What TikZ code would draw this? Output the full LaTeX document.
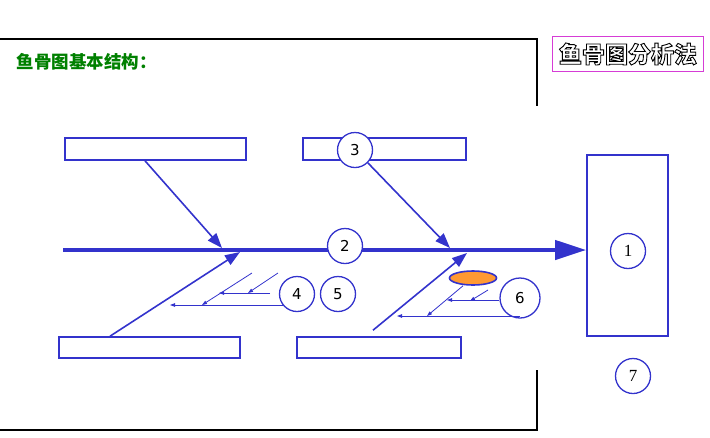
\documentclass[tikz,border=0pt]{standalone}
\usepackage{fontspec}
\usepackage{tikz}
\usetikzlibrary{arrows.meta, positioning, shapes.geometric}
\newfontfamily\cjk{Noto Sans CJK SC}
\newfontfamily\numsans{DejaVu Sans}
\newfontfamily\numserif{Liberation Serif}
\definecolor{fishblue}{RGB}{51,51,204}
\definecolor{titlegreen}{RGB}{0,128,0}
\definecolor{boxmagenta}{RGB}{214,60,214}
\definecolor{eggorange}{RGB}{255,153,51}

\begin{document}
\begin{tikzpicture}[
  x=1pt, y=-1pt,
  frame/.style={draw=black, line width=1.3pt},
  causebox/.style={draw=fishblue, line width=1.6pt, fill=white, inner sep=0pt},
  num/.style={circle, draw=fishblue, line width=1.3pt, fill=white, minimum size=35pt, inner sep=0pt, font=\numsans\fontsize{15}{15}\selectfont},
  numr/.style={num, font=\numserif\fontsize{17}{17}\selectfont},
  spine/.style={draw=fishblue, line width=4pt, -{Triangle[length=31pt, width=19pt]}},
  bone/.style={draw=fishblue, line width=1.6pt, -{Triangle[length=15pt, width=11pt]}},
  twig/.style={draw=fishblue, line width=0.8pt, -{Triangle[length=5pt, width=3.5pt]}},
]
\useasboundingbox (0,0) rectangle (710,437);
% ---- frame and titles
\draw[frame] (0,39) -- (537,39) -- (537,106);
\draw[frame] (0,430) -- (537,430) -- (537,370);
\node[anchor=west, text=titlegreen, font=\cjk\bfseries\fontsize{17.5}{17.5}\selectfont] (title) at (13,62) {鱼骨图基本结构：};
\node[minimum width=150pt, minimum height=34pt, inner sep=0pt,
  font=\cjk\bfseries\fontsize{23}{23}\selectfont] (name) at (628,54)
  {\color{white}\special{pdf:literal direct 2 Tr 0.9 w 0 G}鱼骨图分析法\special{pdf:literal direct 0 Tr}};
\draw[draw=boxmagenta, line width=0.8pt] (name.north west) rectangle (name.south east);

% ---- boxes
\node[causebox, minimum width=181pt, minimum height=22pt] (tl) at (155.5,149) {};
\node[causebox, minimum width=163pt, minimum height=22pt] (tm) at (384.5,149) {};
\node[causebox, minimum width=181pt, minimum height=21pt] (bl) at (149.5,347.5) {};
\node[causebox, minimum width=164pt, minimum height=21pt] (bm) at (379,347.5) {};
\node[causebox, minimum width=81pt, minimum height=181pt] (head) at (627.5,245.5) {};

% ---- spine and bones
\coordinate (tail) at (63,250);
\coordinate (s1) at (222,248);
\coordinate (s2) at (450,248);
\coordinate (s3) at (240,252);
\coordinate (s4) at (467,253);
\draw[spine] (tail) -- (tail -| head.west);
\node[num] (c3) at (355,150) {3};
\draw[bone] ([xshift=-10.5pt]tl.south) -- (s1);
\draw[bone] (c3.south east) -- (s2);
\draw[bone] ([xshift=-39.5pt]bl.north) -- (s3);
\draw[bone] ([shift={(-6pt,6pt)}]bm.north) -- (s4);

% ---- small causes
\node[num] (c4) at (297,294) {4};
\node[num] (c5) at (338,294) {5};
\coordinate (a1) at (252,273);
\coordinate (a2) at (202,305);
\coordinate (a3) at (270,293);
\coordinate (a4) at (278,273);
\coordinate (a5) at (248,293);
\draw[twig] (c4.south west |- a2) -- (170,305);
\draw[twig] (a1) -- (a2);
\draw[twig] (a3) -- (219,293);
\draw[twig] (a4) -- (a5);

\node[ellipse, draw=fishblue, line width=1.6pt, fill=eggorange, minimum width=47pt, minimum height=14pt, inner sep=0pt] (egg) at (473,278) {};
\node[num, minimum size=40pt] (c6) at (520,298) {6};
\coordinate (b1) at (488,290);
\coordinate (b2) at (470,301);
\coordinate (b3) at (427,316);
\coordinate (b4) at (397,316);
\draw[twig] (c6.west |- 0,300) -- (447,300);
\draw[twig] (b1) -- (b2);
\draw[twig] ([xshift=-10pt]egg.south) -- (b3);
\draw[twig] (c6.south |- b4) -- (b4);

% ---- head and effects
\node[numr] (c1) at (628,251) {1};
\node[num] (c2) at (345,246) {2};
\node[numr] (c7) at (633,376) {7};
\end{tikzpicture}
\end{document}
